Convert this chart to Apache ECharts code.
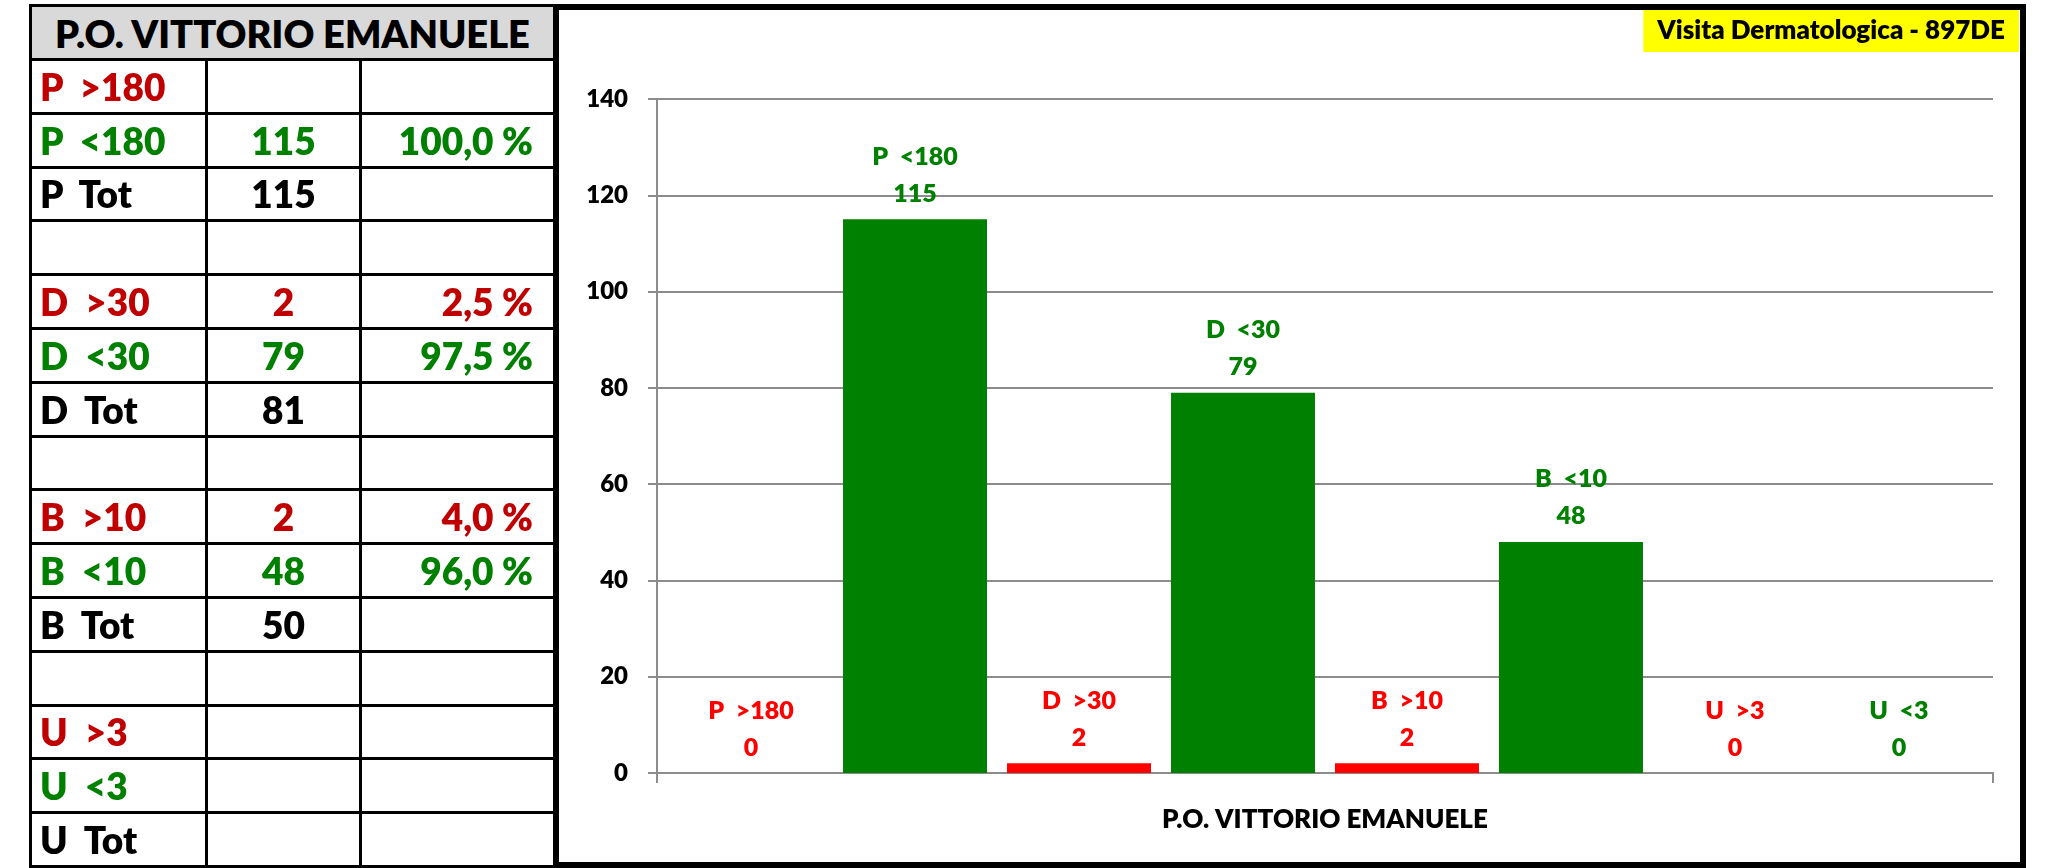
<!DOCTYPE html>
<html>
<head>
<meta charset="utf-8">
<script src="https://cdn.jsdelivr.net/npm/echarts@6/dist/echarts.min.js"></script>
<style>
  html, body { margin:0; padding:0; background:#fff; }
  body { width:2048px; height:868px; position:relative; overflow:hidden; font-family:'Lato', sans-serif; }
  #chart { position:absolute; left:0; top:0; width:2048px; height:868px; }
  #frame { position:absolute; left:553px; top:4px; width:1473px; height:864px; border:6px solid #000; box-sizing:border-box; pointer-events:none; }
  #table { position:absolute; left:29px; top:4px; width:527px; height:864px; box-sizing:border-box;
           border-left:3px solid #000; border-top:3px solid #000;
           display:grid; grid-template-columns:176px 154px 194px; grid-template-rows:54px repeat(15, 1fr); }
  #table div { border-right:3px solid #000; border-bottom:3px solid #000; box-sizing:border-box;
               font-weight:800; font-size:37px; white-space:pre; display:flex; align-items:center; overflow:hidden; }
  #table .hdr { grid-column:1 / span 3; background:#d9d9d9; justify-content:center; font-size:38px; color:#000; }
  #table .c1 { padding-left:8px; }
  #table .c2 { justify-content:center; }
  #table .c3 { justify-content:flex-end; padding-right:20px; }
  .red { color:#c00000; } .green { color:#008000; } .black { color:#000; }
</style>
</head>
<body>
<div id="chart"></div>
<div id="table"></div>
<div id="frame"></div>
<script>
// ---- data ----
const hospital = 'P.O. VITTORIO EMANUELE';
const chartTitle = 'Visita Dermatologica - 897DE';
const groups = ['P', 'D', 'B', 'U'];
const overLabels = ['>180', '>30', '>10', '>3'];
const underLabels = ['<180', '<30', '<10', '<3'];
const overCounts = ['', '2', '2', ''];
const underCounts = ['115', '79', '48', ''];
const totals = ['115', '81', '50', ''];
const overPct = ['', '2,5 %', '4,0 %', ''];
const underPct = ['100,0 %', '97,5 %', '96,0 %', ''];

const categories = [hospital];
const seriesNames = ['P  >180', 'P  <180', 'D  >30', 'D  <30', 'B  >10', 'B  <10', 'U  >3', 'U  <3'];
const seriesValues = [0, 115, 2, 79, 2, 48, 0, 0];
const seriesKinds = ['over', 'under', 'over', 'under', 'over', 'under', 'over', 'under'];
const yMin = 0, yMax = 140, yInterval = 20;

// ---- table ----
const table = document.getElementById('table');
function cell(text, cls) { const d = document.createElement('div'); d.className = cls; d.textContent = text; table.appendChild(d); }
cell(hospital, 'hdr');
groups.forEach((g, i) => {
  if (i > 0) { cell('', 'c1'); cell('', 'c2'); cell('', 'c3'); }
  cell(g + '  ' + overLabels[i], 'c1 red'); cell(overCounts[i], 'c2 red'); cell(overPct[i], 'c3 red');
  cell(g + '  ' + underLabels[i], 'c1 green'); cell(underCounts[i], 'c2 green'); cell(underPct[i], 'c3 green');
  cell(g + '  Tot', 'c1 black'); cell(totals[i], 'c2 black'); cell('', 'c3 black');
});

// ---- chart ----
const barColors = { over: '#ff0000', under: '#008000' };
const labelColors = { over: '#ff0000', under: '#008000' };
const font = 'Lato';
const weight = 800;
const chart = echarts.init(document.getElementById('chart'), null, { renderer: 'canvas' });
chart.setOption({
  animation: false,
  backgroundColor: '#fff',
  title: {
    text: chartTitle, right: 29, top: 10,
    backgroundColor: '#ffff00', padding: [8, 14, 8, 14],
    textStyle: { fontFamily: font, fontWeight: weight, fontSize: 26, lineHeight: 26, color: '#000' }
  },
  grid: { left: 657, right: 55, top: 99, bottom: 95, containLabel: false },
  xAxis: {
    type: 'category', data: categories,
    axisLine: { lineStyle: { color: '#8c8c8c', width: 2 } },
    axisTick: { show: true, length: 10, lineStyle: { color: '#8c8c8c', width: 2 } },
    axisLabel: { margin: 34, fontFamily: font, fontWeight: weight, fontSize: 26, color: '#000' }
  },
  yAxis: {
    type: 'value', min: yMin, max: yMax, interval: yInterval,
    axisLine: { show: true, lineStyle: { color: '#8c8c8c', width: 2 } },
    axisTick: { show: true, length: 9, lineStyle: { color: '#8c8c8c', width: 2 } },
    splitLine: { lineStyle: { color: '#8c8c8c', width: 2 } },
    axisLabel: { margin: 29, fontFamily: font, fontWeight: weight, fontSize: 24, color: '#000' }
  },
  series: seriesNames.map((name, i) => ({
    type: 'bar', name: name, data: [seriesValues[i]],
    barGap: '13.9%', barCategoryGap: '3.3%',
    itemStyle: { color: barColors[seriesKinds[i]] },
    label: {
      show: true, position: 'top', distance: 7,
      formatter: '{a}\n{c}',
      fontFamily: font, fontWeight: weight, fontSize: 25, lineHeight: 37,
      color: labelColors[seriesKinds[i]]
    }
  }))
});
</script>
</body>
</html>
